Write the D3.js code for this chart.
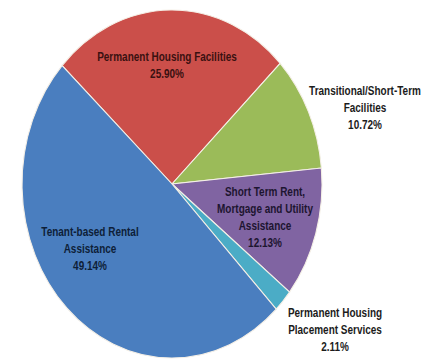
<!DOCTYPE html>
<html>
<head>
<meta charset="utf-8">
<script src="https://cdn.jsdelivr.net/npm/d3@7"></script>
<style>
  html, body { margin: 0; padding: 0; background: #fff; }
  svg text { font-family: "Liberation Sans", Arial, sans-serif; font-weight: bold; }
</style>
</head>
<body>
<svg id="chart" width="424" height="361"></svg>
<script>
// HOPWA expenditure shares by activity (percent of total)
const categories = [
  "Permanent Housing Facilities",
  "Transitional/Short-Term Facilities",
  "Short Term Rent, Mortgage and Utility Assistance",
  "Permanent Housing Placement Services",
  "Tenant-based Rental Assistance"
];
const values = [25.90, 10.72, 12.13, 2.11, 49.14];
const colors = ["#CB4F4A", "#9BBB59", "#8064A2", "#4BACC6", "#4A7EBF"];

// Label line breaks, one entry per category
const labelLines = [
  ["Permanent Housing Facilities"],
  ["Transitional/Short-Term", "Facilities"],
  ["Short Term Rent,", "Mortgage and Utility", "Assistance"],
  ["Permanent Housing", "Placement Services"],
  ["Tenant-based  Rental", "Assistance"]
];

const W = 424, H = 361;
const cx = 172, cy = 184;
const R = 150;          // horizontal radius
const yStretch = 1.16;  // the pie is drawn as an upright ellipse

const svg = d3.select("#chart");

const pie = d3.pie()
  .sort(null)
  .value(d => d)
  .startAngle(-47.1 * Math.PI / 180)
  .endAngle(-47.1 * Math.PI / 180 + 2 * Math.PI);

const arcs = pie(values);
const arc = d3.arc().innerRadius(0).outerRadius(R);

const pieG = svg.append("g")
  .attr("transform", `translate(${cx},${cy}) scale(1,${yStretch})`);

pieG.selectAll("path")
  .data(arcs)
  .join("path")
  .attr("d", arc)
  .attr("fill", (d, i) => colors[i])
  .attr("stroke", "#f4efe6")
  .attr("stroke-width", 1.1)
  .attr("vector-effect", "non-scaling-stroke");

// Label anchors (centre of first line), relative to the pie centre
const labelPos = [
  { dx: -5,  dy: -128, color: "#3a1111" },
  { dx: 193, dy: -94,  color: "#1c1c1c" },
  { dx: 93,  dy: 7,    color: "#1d1530" },
  { dx: 163, dy: 128,  color: "#1c1c1c" },
  { dx: -82, dy: 47,   color: "#0e1e38" }
];

const fmt = v => v.toFixed(2) + "%";
const lineH = 17;
const narrow = 0.74;   // horizontal squeeze for a narrow bold face

const labels = svg.append("g").attr("transform", `translate(${cx},${cy})`);
arcs.forEach((a, i) => {
  const p = labelPos[i];
  const lines = labelLines[i].concat([fmt(values[i])]);
  const t = labels.append("g")
    .attr("transform", `translate(${p.dx},${p.dy}) scale(${narrow},1)`)
    .append("text")
    .attr("text-anchor", "middle")
    .attr("dominant-baseline", "central")
    .attr("fill", p.color)
    .attr("font-size", 13.5);
  lines.forEach((l, j) => {
    t.append("tspan")
      .attr("x", 0)
      .attr("y", j * lineH)
      .text(l);
  });
});
</script>
</body>
</html>
